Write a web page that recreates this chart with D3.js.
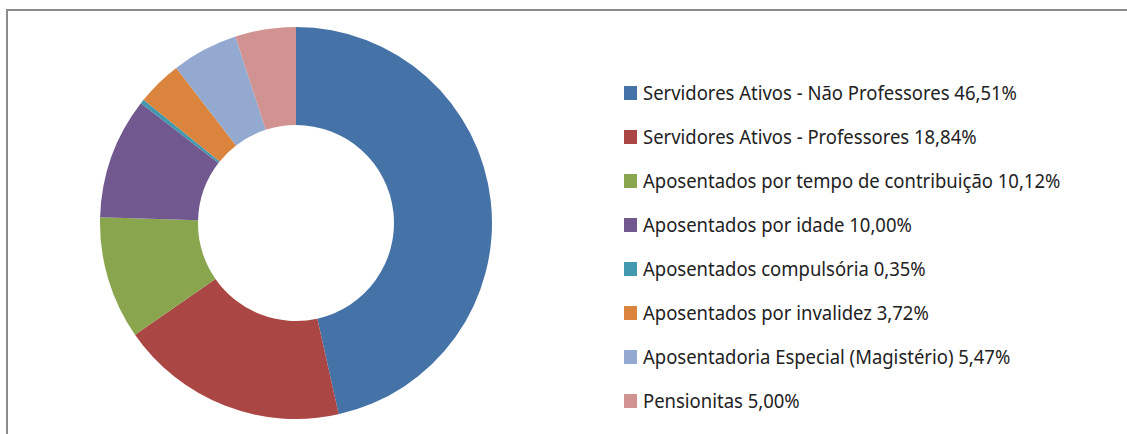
<!DOCTYPE html>
<meta charset="utf-8">
<style>
body { margin: 0; background: #fff; }
.legend text { font-family: "Noto Sans", sans-serif; font-size: 20px; fill: #222; }
</style>
<body>
<script src="https://cdn.jsdelivr.net/npm/d3@7"></script>
<script>
// data
var categories = [
  "Servidores Ativos - Não Professores",
  "Servidores Ativos - Professores",
  "Aposentados por tempo de contribuição",
  "Aposentados por idade",
  "Aposentados compulsória",
  "Aposentados por invalidez",
  "Aposentadoria Especial (Magistério)",
  "Pensionitas"
];
var values = [46.51, 18.84, 10.12, 10.00, 0.35, 3.72, 5.47, 5.00];
var labels = ["46,51%", "18,84%", "10,12%", "10,00%", "0,35%", "3,72%", "5,47%", "5,00%"];
var colors = ["#4572A7", "#AA4643", "#89A54E", "#71588F", "#4198AF", "#DB843D", "#93A9CF", "#D19392"];

var width = 1127, height = 434;

var svg = d3.select("body").append("svg")
    .attr("width", width)
    .attr("height", height);

// frame
svg.append("path")
    .attr("d", "M7,440 V10 H1130")
    .attr("fill", "none")
    .attr("stroke", "#8c8c8c")
    .attr("stroke-width", 2);

var data = categories.map(function(c, i) {
  return {name: c, value: values[i], label: labels[i], color: colors[i]};
});

var pie = d3.pie().sort(null).value(function(d) { return d.value; });
var arc = d3.arc().innerRadius(98).outerRadius(196);

var g = svg.append("g")
    .attr("transform", "translate(296,223)");

g.selectAll("path")
    .data(pie(data))
  .enter().append("path")
    .attr("d", arc)
    .attr("fill", function(d) { return d.data.color; });

// legend
var y = d3.scalePoint()
    .domain(categories)
    .range([93, 401]);

var legend = svg.append("g").attr("class", "legend");

var items = legend.selectAll("g")
    .data(data)
  .enter().append("g")
    .attr("transform", function(d) { return "translate(624," + y(d.name) + ")"; });

items.append("rect")
    .attr("x", 0)
    .attr("y", -7)
    .attr("width", 13)
    .attr("height", 14)
    .attr("fill", function(d) { return d.color; });

var texts = items.append("text")
    .attr("x", 19)
    .attr("y", 7)
    .text(function(d) { return d.name + " " + d.label; });

// squeeze text to roughly match the narrow original font
var w0 = texts.nodes()[0].getComputedTextLength();
var sx = 374 / w0;
texts.attr("transform", "translate(19,0) scale(" + sx + ",1) translate(-19,0)");
</script>
</body>
